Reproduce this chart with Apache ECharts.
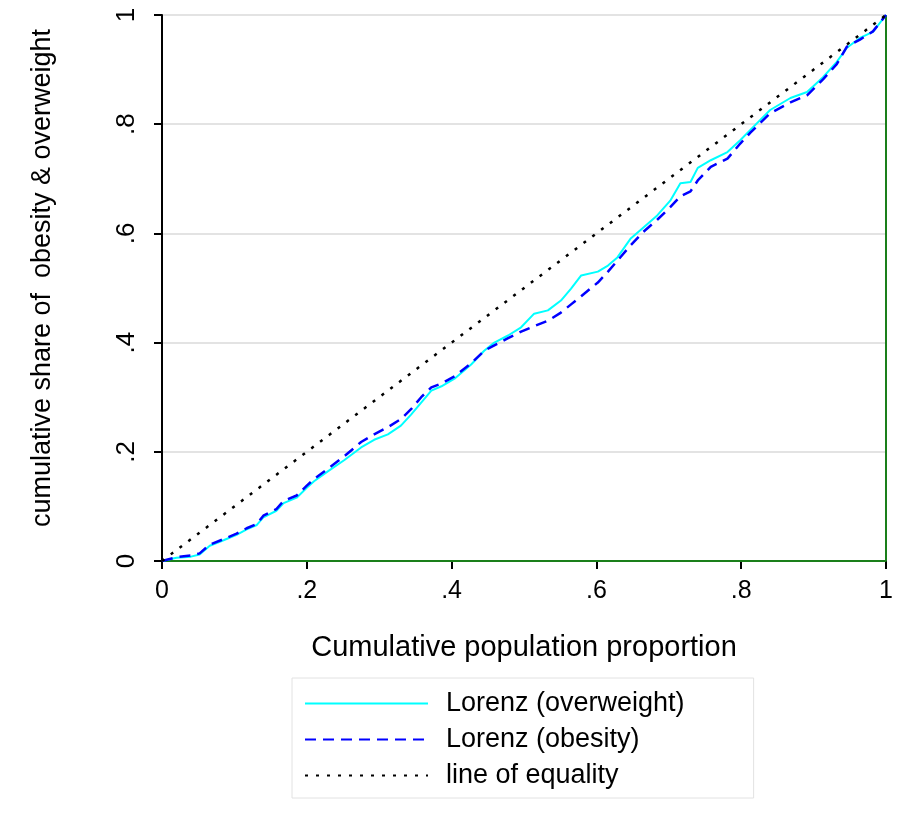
<!DOCTYPE html>
<html>
<head>
<meta charset="utf-8">
<script src="https://cdn.jsdelivr.net/npm/echarts@6/dist/echarts.min.js"></script>
<style>
  html, body { margin: 0; padding: 0; background: #fff; }
  #chart { width: 900px; height: 822px; }
</style>
</head>
<body>
<div id="chart"></div>
<script>
// cumulative population proportion (x) shared by both Lorenz curves
const popShare = [0, 0.02, 0.04, 0.052, 0.066, 0.085, 0.103, 0.117, 0.131, 0.14, 0.158, 0.168, 0.186, 0.2, 0.21, 0.23,
    0.252, 0.275, 0.293, 0.312, 0.33, 0.344, 0.358, 0.372, 0.386, 0.404, 0.427, 0.445, 0.459, 0.478, 0.496, 0.514,
    0.533, 0.551, 0.565, 0.579, 0.602, 0.616, 0.629, 0.647, 0.665, 0.684, 0.702, 0.716, 0.73, 0.74, 0.758, 0.781,
    0.799, 0.813, 0.84, 0.868, 0.891, 0.913, 0.932, 0.946, 0.964, 0.982, 1]

// Lorenz (overweight)
const overweight = [0, 0.006, 0.008, 0.012, 0.028, 0.038, 0.048, 0.058, 0.066, 0.08, 0.092, 0.106, 0.116, 0.134, 0.146, 0.165,
    0.185, 0.208, 0.222, 0.232, 0.248, 0.268, 0.29, 0.312, 0.32, 0.334, 0.36, 0.385, 0.4, 0.413, 0.428, 0.453,
    0.459, 0.477, 0.499, 0.523, 0.53, 0.541, 0.556, 0.59, 0.611, 0.633, 0.66, 0.692, 0.694, 0.72, 0.734, 0.749,
    0.771, 0.79, 0.826, 0.848, 0.859, 0.886, 0.914, 0.94, 0.958, 0.969, 1]

// Lorenz (obesity)
const obesity = [0, 0.007, 0.01, 0.014, 0.03, 0.04, 0.05, 0.06, 0.068, 0.083, 0.095, 0.11, 0.12, 0.138, 0.15, 0.17,
    0.192, 0.218, 0.232, 0.245, 0.26, 0.278, 0.3, 0.318, 0.325, 0.338, 0.362, 0.385, 0.395, 0.408, 0.42, 0.43,
    0.44, 0.455, 0.47, 0.485, 0.51, 0.53, 0.55, 0.578, 0.603, 0.625, 0.648, 0.668, 0.677, 0.697, 0.722, 0.737,
    0.765, 0.785, 0.82, 0.84, 0.853, 0.882, 0.91, 0.942, 0.955, 0.97, 1]

// line of equality
const equalityX = [0, 1]
const equalityY = [0, 1]

// bottom / right boundary (green)
const boundX = [0, 1, 1]
const boundY = [0, 0, 1]

const tickLabels = ['0', '.2', '.4', '.6', '.8', '1']

const FONT = 'Liberation Sans, Arial, sans-serif'

const zip = (xs, ys) => xs.map((x, i) => [x, ys[i]])
const fmtTick = v => tickLabels[Math.round(v * 5)]

const chart = echarts.init(document.getElementById('chart'))

chart.setOption({
    backgroundColor: '#fff',
    animation: false,
    grid: {
        left: 162,
        right: 14,
        top: 15,
        bottom: 261,
    },
    legend: {
        orient: 'vertical',
        left: 292,
        top: 678,
        padding: [12, 69, 9, 12],
        itemWidth: 123,
        itemHeight: 12,
        itemGap: 9,
        borderColor: '#e2e2e2',
        borderWidth: 1,
        itemStyle: { opacity: 0 },
        textStyle: {
            fontFamily: FONT,
            fontSize: 27,
            color: '#000',
            padding: [0, 0, 0, 13],
        },
        data: ['Lorenz (overweight)', 'Lorenz (obesity)', 'line of equality'],
    },
    xAxis: {
        type: 'value',
        min: 0,
        max: 1,
        interval: 0.2,
        name: 'Cumulative population proportion',
        nameLocation: 'middle',
        nameGap: 72,
        nameTextStyle: { fontFamily: FONT, fontSize: 29, color: '#000' },
        axisLine: { lineStyle: { color: '#000', width: 2 } },
        axisTick: { length: 8, lineStyle: { color: '#000', width: 2 } },
        axisLabel: {
            margin: 18,
            fontFamily: FONT,
            fontSize: 25,
            color: '#000',
            formatter: fmtTick,
        },
        splitLine: { show: false },
    },
    yAxis: {
        type: 'value',
        min: 0,
        max: 1,
        interval: 0.2,
        name: 'cumulative share of  obesity & overweight',
        nameLocation: 'middle',
        nameRotate: 90,
        nameGap: 106,
        nameTextStyle: {
            fontFamily: FONT,
            fontSize: 27,
            color: '#000',
            padding: [0, 0, 0, 20],
        },
        axisLine: { show: true, lineStyle: { color: '#000', width: 2 } },
        axisTick: { show: true, length: 8, lineStyle: { color: '#000', width: 2 } },
        axisLabel: {
            rotate: 90,
            margin: 22,
            fontFamily: FONT,
            fontSize: 26,
            color: '#000',
            formatter: fmtTick,
        },
        splitLine: { show: true, lineStyle: { color: '#e3e3e3', width: 2 } },
    },
    series: [
        {
            name: 'Lorenz (overweight)',
            type: 'line',
            symbol: 'none',
            data: zip(popShare, overweight),
            lineStyle: { color: '#00ffff', width: 2 },
            itemStyle: { color: '#00ffff' },
            z: 3,
        },
        {
            name: 'Lorenz (obesity)',
            type: 'line',
            symbol: 'none',
            data: zip(popShare, obesity),
            lineStyle: { color: '#0000ff', width: 2.5, type: [11, 7] },
            itemStyle: { color: '#0000ff' },
            z: 4,
        },
        {
            name: 'line of equality',
            type: 'line',
            symbol: 'none',
            data: zip(equalityX, equalityY),
            lineStyle: { color: '#000', width: 2.5, type: [3, 8] },
            itemStyle: { color: '#000' },
            z: 5,
        },
        {
            name: 'bound',
            type: 'line',
            symbol: 'none',
            data: zip(boundX, boundY),
            lineStyle: { color: '#1a7f1a', width: 2 },
            z: 2,
        },
    ],
})
</script>
</body>
</html>
